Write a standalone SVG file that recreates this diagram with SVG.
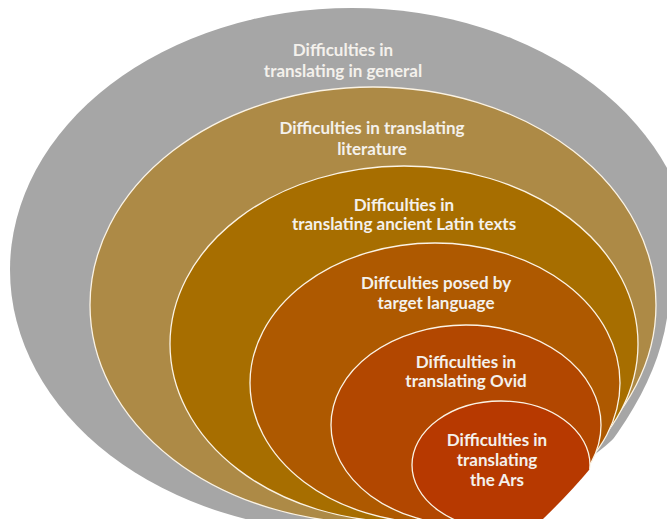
<svg xmlns="http://www.w3.org/2000/svg" width="667" height="519" viewBox="0 0 667 519">
  <defs>
    <!-- lower-right edge where all rings are trimmed -->
    <clipPath id="trim">
      <path d="M0,0 H667 V318 C656,392 602,462 543,519 H0 Z"/>
    </clipPath>
    <style>
      .ring { stroke: #fbf3e4; stroke-width: 1.3; }
      .lbl { font-family: Lato, "Liberation Sans", Arial, sans-serif; font-weight: bold; font-size: 17px; fill: #f4f1ec; text-anchor: middle; }
    </style>
  </defs>
  <rect width="667" height="519" fill="#ffffff"/>
  <g clip-path="url(#trim)">
    <g id="general">
      <ellipse cx="352" cy="270" rx="342" ry="262" fill="#a6a6a6"/>
      <text class="lbl" x="343" y="56">Difficulties in</text>
      <text class="lbl" x="343" y="77">translating in general</text>
    </g>
    <g id="literature">
      <ellipse class="ring" cx="373" cy="305" rx="283" ry="218" fill="#ad8a46"/>
      <text class="lbl" x="372" y="134">Difficulties in translating</text>
      <text class="lbl" x="372" y="155">literature</text>
    </g>
    <g id="latin">
      <ellipse class="ring" cx="404" cy="344" rx="234" ry="178" fill="#a76e00"/>
      <text class="lbl" x="404" y="211">Difficulties in</text>
      <text class="lbl" x="404" y="230">translating ancient Latin texts</text>
    </g>
    <g id="target">
      <ellipse class="ring" cx="435" cy="383" rx="185" ry="140" fill="#ae5900"/>
      <text class="lbl" x="436" y="289">Diffculties posed by</text>
      <text class="lbl" x="436" y="309">target language</text>
    </g>
    <g id="ovid">
      <ellipse class="ring" cx="466" cy="425" rx="135" ry="100" fill="#b24700"/>
      <text class="lbl" x="466" y="368">Difficulties in</text>
      <text class="lbl" x="466" y="387">translating Ovid</text>
    </g>
    <g id="ars">
      <ellipse class="ring" cx="501" cy="465" rx="89" ry="64" fill="#b73900"/>
      <text class="lbl" x="497" y="446">Difficulties in</text>
      <text class="lbl" x="497" y="466">translating</text>
      <text class="lbl" x="497" y="486">the Ars</text>
    </g>
  </g>
</svg>
